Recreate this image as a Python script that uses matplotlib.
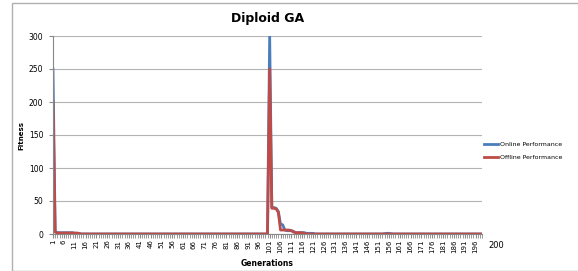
import numpy as np
from matplotlib import pyplot as plt
from matplotlib.patches import Rectangle

# generations 1..199
gens = np.arange(1, 200)

# Online performance (blue)
online = np.zeros(199)
online[0:13] = [250, 4, 2, 2, 2, 2, 2, 2, 2, 2, 1, 0.5, 0.5]
online[100:121] = [300, 40, 40, 39, 34, 15, 14, 6, 5, 5, 5, 4, 2, 2, 2, 2, 2, 1, 1, 1, 1]
online[153:157] = [0.5, 1, 1, 0.5]

# Offline performance (red)
offline = np.zeros(199)
offline[0:13] = [200, 3, 1.5, 1.5, 1.5, 1.5, 1.5, 1.5, 1.5, 1.5, 1.5, 1.5, 1]
offline[100:117] = [250, 39, 39, 38, 33, 6, 6, 6, 6, 6, 5, 3, 2, 2, 2, 2, 1]

xlabels = [str(g) for g in gens[::5]]

fig = plt.figure(figsize=(5.78, 2.71), dpi=100)
fig.patches.append(Rectangle((12 / 578, 0), 1, 1 - 3 / 271, transform=fig.transFigure,
                             fill=False, edgecolor='#b0b0b0', linewidth=1))
ax = fig.add_axes([53 / 578, 1 - 234 / 271, 429 / 578, 198 / 271])

ax.plot(gens, online, '-', color='#4a7ebb', linewidth=2, label='Online Performance')
ax.plot(gens, offline, '-', color='#be4b48', linewidth=2, label='Offline Performance')

ax.set_xlim(1, 199)
ax.set_ylim(0, 300)
ax.set_yticks([0, 50, 100, 150, 200, 250, 300])
ax.set_xticks(gens[::5])
ax.set_xticklabels(xlabels, rotation=90, fontsize=5)
ax.set_xticks(gens, minor=True)
ax.tick_params(axis='y', labelsize=5.5, length=3, color='#888888', pad=4)
ax.tick_params(axis='x', which='both', length=3, color='#888888', pad=1)
ax.grid(axis='y', color='#b4b4b4', linewidth=0.8)
ax.set_axisbelow(True)
for s in ['top', 'right']:
    ax.spines[s].set_visible(False)
ax.spines['left'].set_color('#888888')
ax.spines['bottom'].set_color('#888888')

ax.set_title('Diploid GA', fontsize=9, fontweight='bold', pad=10)
ax.set_xlabel('Generations', fontsize=5.5, fontweight='bold', labelpad=4)
ax.set_ylabel('Fitness', fontsize=5, fontweight='bold', labelpad=3)
ax.text(488 / 578, 1 - 245 / 271, '200', transform=fig.transFigure, fontsize=6, va='center')

ax.legend(loc='center left', bbox_to_anchor=(1.005, 0.42), frameon=False,
          fontsize=4.5, handlelength=2.2, handletextpad=0.3, labelspacing=1.3,
          borderpad=0, borderaxespad=0)

plt.savefig('out.png', dpi=100)
